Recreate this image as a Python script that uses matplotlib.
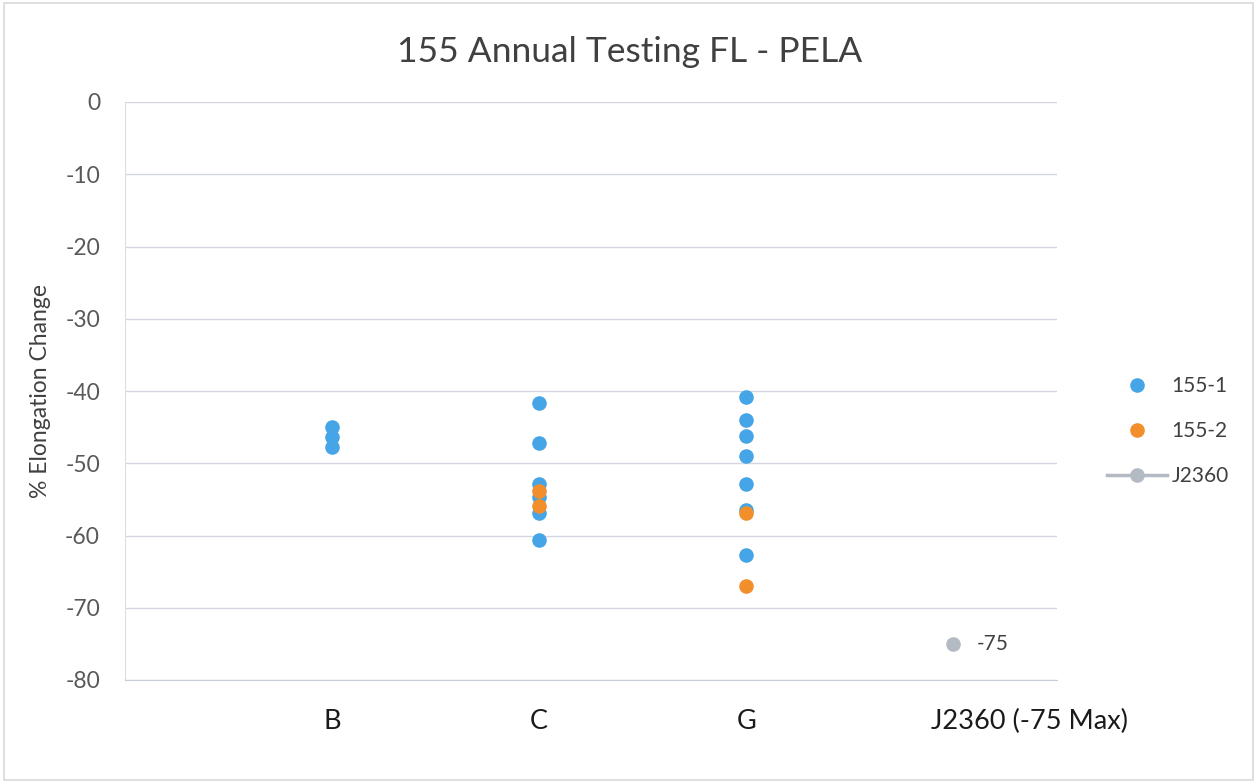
import matplotlib
matplotlib.use("Agg")
import matplotlib.pyplot as plt
from matplotlib.lines import Line2D

categories = ["B", "C", "G", "J2360 (-75 Max)"]
s1_cat = ["B", "B", "B",
          "C", "C", "C", "C", "C", "C",
          "G", "G", "G", "G", "G", "G", "G"]
s1_val = [-45.0, -46.4, -47.8,
          -41.7, -47.2, -52.9, -54.7, -56.9, -60.6,
          -40.8, -44.0, -46.2, -49.0, -52.9, -56.5, -62.7]
s2_cat = ["C", "C", "G", "G"]
s2_val = [-53.8, -55.9, -56.9, -67.0]
j_cat = ["J2360 (-75 Max)"]
j_val = [-75]

blue = "#45A5E6"
orange = "#F28E2B"
gray = "#B4BAC4"

plt.rcParams['font.family'] = ['Lato', 'DejaVu Sans']
plt.rcParams['axes.unicode_minus'] = False

fig = plt.figure(figsize=(12.57, 7.83), dpi=100)
ax = fig.add_axes([125/1257, 1 - 680/783, (1057-125)/1257, (680-102)/783])

pos = {c: i + 1 for i, c in enumerate(categories)}
ms = 10.5
ax.plot([pos[c] for c in s1_cat], s1_val, 'o', color=blue, ms=ms, mec='none', zorder=3)
ax.plot([pos[c] for c in s2_cat], s2_val, 'o', color=orange, ms=ms, mec='none', zorder=4)
ax.plot([pos[c] for c in j_cat], j_val, 'o', color=gray, ms=ms, mec='none', zorder=3)
for c, v in zip(j_cat, j_val):
    ax.annotate(f"{v}", (pos[c], v), xytext=(17, 0), textcoords='offset points',
                va='center', ha='left', fontsize=15, color='#404040')

ax.set_xlim(0, 4.5)
ax.set_ylim(-80, 0)
ax.set_yticks(range(-80, 1, 10))
ax.set_xticks([pos[c] for c in categories[:3]])
ax.set_xticklabels(categories[:3], fontsize=19.5, color='#1a1a1a')
# last category label is shifted right of its point, as in the original
ax.annotate(categories[3], xy=(pos[categories[3]], 0), xycoords=('data', 'axes fraction'),
            xytext=(55, -21), textcoords='offset points', ha='center', va='top',
            fontsize=19.5, color='#1a1a1a')
ax.tick_params(axis='x', length=0, pad=21)
ax.tick_params(axis='y', length=0, pad=18, labelsize=16.5, labelcolor='#595959')
ax.grid(axis='y', color='#D4D7E3', lw=1)
ax.set_axisbelow(True)
for s in ['top', 'right']:
    ax.spines[s].set_visible(False)
ax.spines['left'].set_color('#D9DEE3')
ax.spines['bottom'].set_color('#C8CCD8')

ax.set_ylabel("% Elongation Change", fontsize=16.5, color='#404040', labelpad=10)
fig.text(630/1257, 1 - 52/783, "155 Annual Testing FL - PELA", ha='center', va='center',
         fontsize=25.5, color='#404040')

handles = [
    Line2D([], [], marker='o', ls='none', color=blue, ms=ms, mec='none'),
    Line2D([], [], marker='o', ls='none', color=orange, ms=ms, mec='none'),
    Line2D([], [], marker='o', ls='-', lw=2.5, color=gray, ms=ms, mec='none'),
]
leg = fig.legend(handles, ["155-1", "155-2", "J2360"], loc='center left',
                 bbox_to_anchor=(1088/1257, 1 - 431/783), frameon=False,
                 fontsize=15, labelspacing=1.2, handlelength=2.9, handletextpad=0.2)
for t in leg.get_texts():
    t.set_color('#404040')

fig.patches.append(plt.Rectangle((0.003, 0.004), 0.994, 0.992, transform=fig.transFigure,
                                 fill=False, ec='#D9D9D9', lw=1.2))
fig.savefig("out.png", dpi=100)
